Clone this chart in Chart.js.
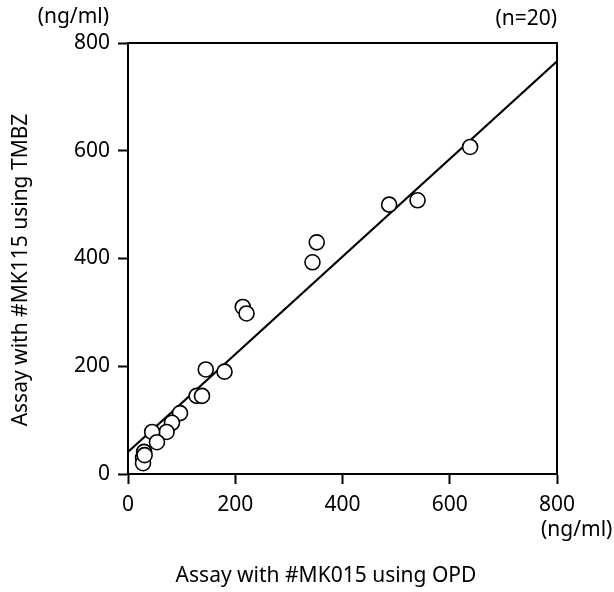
<!DOCTYPE html>
<html>
<head>
<meta charset="utf-8">
<script src="https://cdn.jsdelivr.net/npm/chart.js@4"></script>
<style>
  html, body { margin: 0; padding: 0; background: #fff; }
  #wrap { width: 614px; height: 592px; }
</style>
</head>
<body>
<div id="wrap"><canvas id="chart" width="614" height="592"></canvas></div>
<script>
// measured values (ng/ml)
const opdValues = [638, 487, 540, 352, 344, 214, 221, 145, 180, 128, 138, 97, 82, 72, 45, 54, 30, 28, 28, 31];
const tmbzValues = [607, 500, 508, 430, 393, 310, 298, 194, 190, 145, 145, 113, 95, 78, 78, 59, 41, 30, 20, 35];
const fitX = [0, 800];
const fitY = [41, 766];
const tickValues = [0, 200, 400, 600, 800];

const xTitle = "Assay with #MK015 using OPD";
const yTitle = "Assay with #MK115 using TMBZ";
const unitLabel = "(ng/ml)";
const nLabel = "(n=20)";

const FONT = "'Noto Sans', sans-serif";

const points = opdValues.map((x, i) => ({ x: x, y: tmbzValues[i] }));
const fitLine = fitX.map((x, i) => ({ x: x, y: fitY[i] }));

const extras = {
  id: "extras",
  afterDraw(chart) {
    const ctx = chart.ctx;
    const a = chart.chartArea;
    ctx.save();
    ctx.strokeStyle = "#000";
    ctx.lineWidth = 2;
    ctx.beginPath();
    ctx.moveTo(a.left, a.top);
    ctx.lineTo(a.right, a.top);
    ctx.lineTo(a.right, a.bottom);
    ctx.stroke();

    ctx.fillStyle = "#000";
    ctx.font = "21px " + FONT;
    ctx.textBaseline = "middle";
    ctx.textAlign = "right";
    ctx.fillText(unitLabel, 109, 17);
    ctx.fillText(nLabel, a.right, 19);
    ctx.textAlign = "left";
    ctx.fillText(unitLabel, 541, 530);
    ctx.textAlign = "center";
    ctx.fillText(xTitle, 326, 576);
    ctx.translate(21, 270);
    ctx.rotate(-Math.PI / 2);
    ctx.fillText(yTitle, 0, 0);
    ctx.restore();
  }
};

const axisCommon = {
  type: "linear",
  min: 0,
  max: 800,
  afterBuildTicks: s => { s.ticks = tickValues.map(v => ({ value: v })); },
  grid: { drawOnChartArea: false, drawTicks: true, tickLength: 10, tickWidth: 2, tickColor: "#000" },
  border: { display: true, color: "#000", width: 2 },
  ticks: { color: "#000", font: { family: FONT, size: 21 }, padding: 8 }
};

new Chart(document.getElementById("chart"), {
  type: "scatter",
  data: {
    datasets: [
      {
        label: "samples",
        data: points,
        pointRadius: 7.5,
        pointBorderWidth: 1.6,
        pointBackgroundColor: "#fff",
        pointBorderColor: "#000",
        showLine: false
      },
      {
        label: "fit",
        type: "line",
        data: fitLine,
        borderColor: "#000",
        borderWidth: 2,
        pointRadius: 0,
        fill: false
      }
    ]
  },
  options: {
    responsive: false,
    animation: false,
    layout: { padding: { top: 43, right: 57, left: 0, bottom: 0 } },
    plugins: { legend: { display: false }, tooltip: { enabled: false } },
    scales: {
      x: Object.assign({}, axisCommon, {
        position: "bottom",
        afterFit: s => { s.height = 118; }
      }),
      y: Object.assign({}, axisCommon, {
        position: "left",
        afterFit: s => { s.width = 128; }
      })
    }
  },
  plugins: [extras]
});
</script>
</body>
</html>
